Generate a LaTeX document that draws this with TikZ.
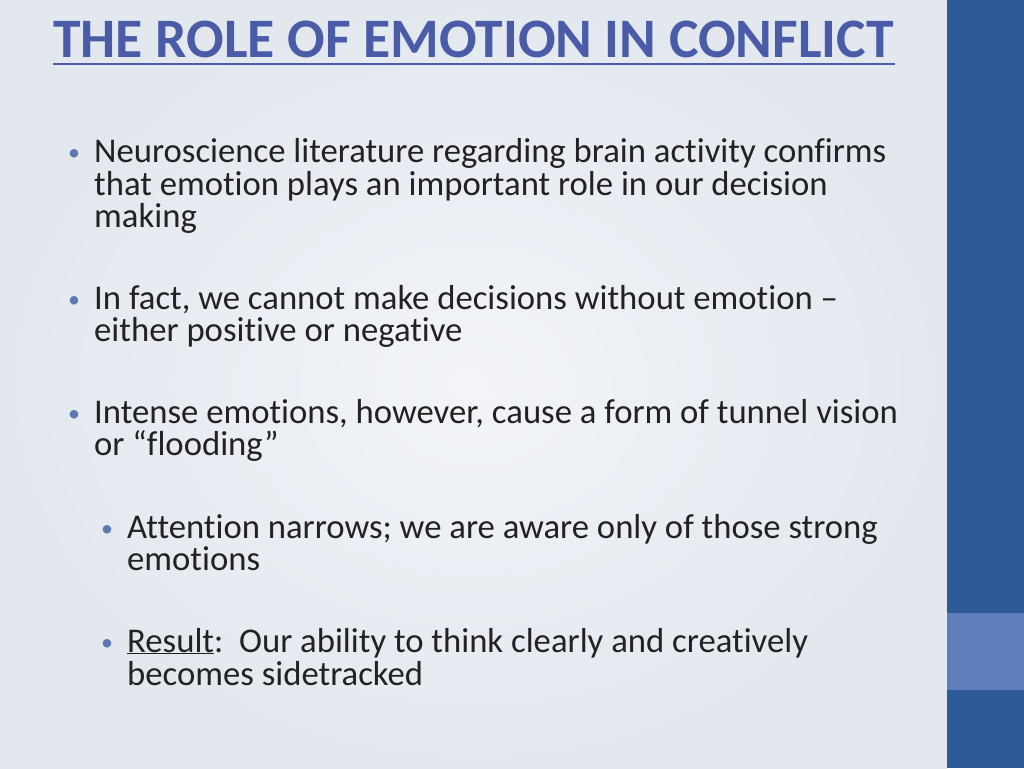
\documentclass[tikz,border=0pt]{standalone}
\usepackage{fontspec}
\setmainfont{Carlito}[Ligatures=NoCommon]
\definecolor{bgc}{HTML}{E3E8EF}
\definecolor{bgin}{HTML}{F2F4F8}
\definecolor{barc}{HTML}{2E5A9A}
\definecolor{barl}{HTML}{5F7DBB}
\definecolor{titlec}{HTML}{4A5BA8}
\definecolor{dotc}{HTML}{5A7AB0}
\definecolor{txt}{HTML}{222222}
\begin{document}
\begin{tikzpicture}[x=1pt,y=-1pt,
  line/.style={anchor=base west,inner sep=0pt,font=\fontsize{34.7}{40}\selectfont,text=txt},
  dot/.style={anchor=base west,inner sep=0pt,font=\fontsize{24}{28}\selectfont,text=dotc}]
\useasboundingbox (0,0) rectangle (1024,768);
\shade[inner color=bgin,outer color=bgc] (0,0) rectangle (947,768);
\fill[barc] (947,0) rectangle (1024,768);
\fill[barl] (947,613) rectangle (1024,690);
\node[anchor=base west,inner sep=0pt,font=\fontsize{55.7}{60}\bfseries\selectfont,text=titlec] (title) at (53,57) {THE ROLE OF EMOTION IN CONFLICT};
\draw[titlec,line width=1.5pt] (53,64) -- (895,64);
\node[dot] (d1) at (68,160) {•};
\node[line] (l1) at (94,162) {Neuroscience literature regarding brain activity confirms};
\node[line] (l2) at (94,195) {that emotion plays an important role in our decision};
\node[line] (l3) at (94,227) {making};
\node[dot] (d2) at (68,307) {•};
\node[line] (l4) at (94,309) {In fact, we cannot make decisions without emotion --};
\node[line] (l5) at (94,341) {either positive or negative};
\node[dot] (d3) at (68,421) {•};
\node[line] (l6) at (94,423) {Intense emotions, however, cause a form of tunnel vision};
\node[line] (l7) at (94,455) {or “flooding”};
\node[dot] (d4) at (101,536) {•};
\node[line] (l8) at (127,538) {Attention narrows; we are aware only of those strong};
\node[line] (l9) at (127,570) {emotions};
\node[dot] (d5) at (101,650) {•};
\node[line] (l10) at (127,652) {\underline{Result}:\ \ Our ability to think clearly and creatively};
\node[line] (l11) at (127,685) {becomes sidetracked};
\end{tikzpicture}
\end{document}
